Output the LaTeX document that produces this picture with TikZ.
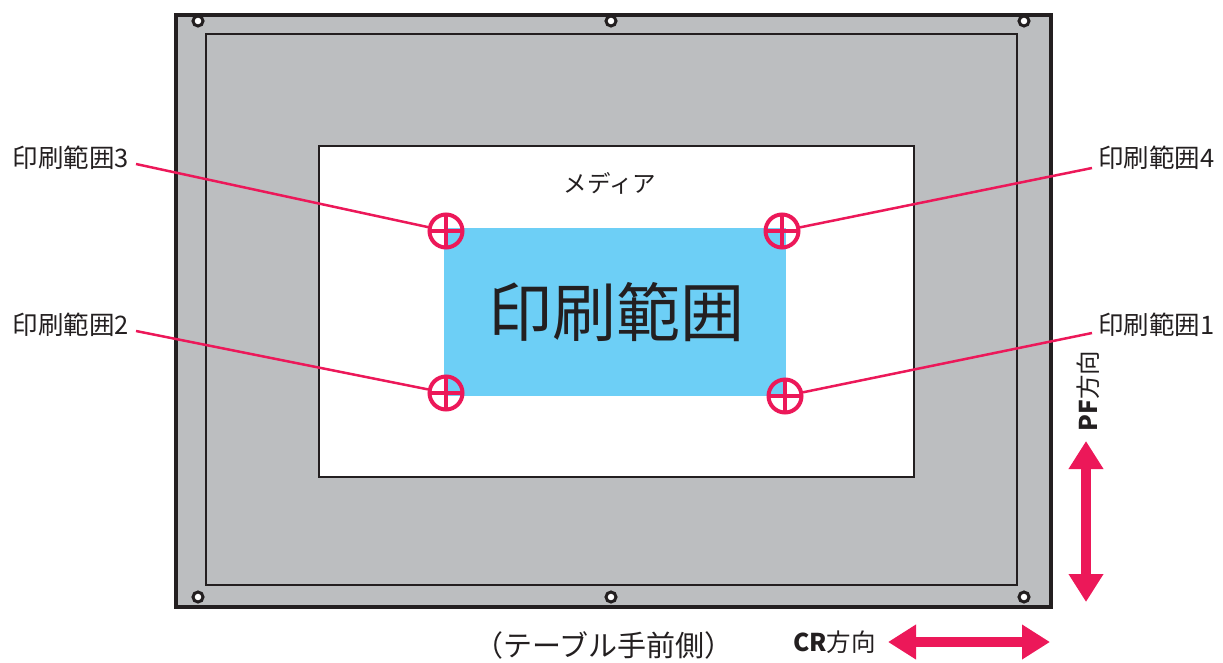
\documentclass[tikz,border=0pt]{standalone}
\usepackage{fontspec}
\setmainfont{Noto Sans CJK JP}
\usetikzlibrary{arrows.meta}
\definecolor{pinkc}{HTML}{EC1859}
\definecolor{grayc}{HTML}{BCBEC0}
\definecolor{bluec}{HTML}{6DCFF6}
\definecolor{inkc}{HTML}{231F20}
\tikzset{
  lbl/.style={font=\fontsize{25.5}{25.5}\selectfont, text=inkc, inner sep=0pt},
  leader/.style={draw=pinkc, line width=2.5pt},
  cross/.style={circle, draw=pinkc, line width=4pt, minimum size=33pt, inner sep=0pt,
    path picture={\draw[pinkc, line width=4pt] (path picture bounding box.north) -- (path picture bounding box.south)
      (path picture bounding box.west) -- (path picture bounding box.east);}},
  screw/.style={circle, draw=inkc, fill=white, line width=3pt, minimum size=10pt, inner sep=0pt},
  bigarrow/.style={draw=pinkc, line width=10pt, {Triangle[width=33pt,length=28pt]}-{Triangle[width=33pt,length=28pt]}, shorten <=0pt, shorten >=0pt}
}
\begin{document}
\begin{tikzpicture}[x=1pt,y=-1pt]
\useasboundingbox (0,0) rectangle (1223,662);
% frames
\node[draw=inkc, fill=grayc, line width=4pt, minimum width=875pt, minimum height=592pt, inner sep=0pt, anchor=north west] (outer) at (174,13) {};
\node[draw=inkc, line width=2pt, minimum width=811pt, minimum height=551pt, inner sep=0pt, anchor=north west] (inner) at (205,33) {};
\node[draw=inkc, fill=white, line width=1.5pt, minimum width=595pt, minimum height=331pt, inner sep=0pt, anchor=north west] (media) at (318,145) {};
\node[fill=bluec, minimum width=342pt, minimum height=168pt, inner sep=0pt, anchor=north west] (area) at (444,228) {};
\node[font=\fontsize{64}{64}\selectfont, text=inkc, inner sep=0pt] (areatxt) at (616,312) {印刷範囲};
\node[font=\fontsize{23.5}{23.5}\selectfont, text=inkc, inner sep=0pt] (mediatxt) at (610,183) {メディア};
% screws
\node[screw] (s1) at (198,21) {};
\node[screw] (s2) at (611,21) {};
\node[screw] (s3) at (1024,21) {};
\node[screw] (s4) at (198,597) {};
\node[screw] (s5) at (611,597) {};
\node[screw] (s6) at (1024,597) {};
% crosshairs
\node[cross] (c3) at (446,231) {};
\node[cross] (c2) at (446,393) {};
\node[cross] (c4) at (782,231) {};
\node[cross] (c1) at (785,396) {};
% labels
\node[lbl, anchor=east] (l3) at (129,158) {印刷範囲3};
\node[lbl, anchor=east] (l2) at (129,325) {印刷範囲2};
\node[lbl, anchor=west] (l4) at (1098,158) {印刷範囲4};
\node[lbl, anchor=west] (l1) at (1098,325) {印刷範囲1};
\coordinate (e3) at (136,164);
\coordinate (e2) at (136,331);
\coordinate (e4) at (1092,168);
\coordinate (e1) at (1092,333);
\draw[leader] (e3) -- (c3);
\draw[leader] (e2) -- (c2);
\draw[leader] (e4) -- (c4);
\draw[leader] (e1) -- (c1);
% direction arrows
\coordinate (pfT) at (1086,441);
\coordinate (pfB) at (1086,602);
\draw[bigarrow] (pfT) -- (pfB);
\node[font=\fontsize{24.5}{24.5}\selectfont, text=inkc, inner sep=0pt, rotate=90] (pftxt) at (1088,391) {\textbf{PF}方向};
\coordinate (crL) at (888,642);
\coordinate (crR) at (1050,642);
\draw[bigarrow] (crL) -- (crR);
\node[font=\fontsize{24.5}{24.5}\selectfont, text=inkc, inner sep=0pt, anchor=east] (crtxt) at (876,642) {\textbf{CR}方向};
\node[font=\fontsize{29}{29}\selectfont, text=inkc, inner sep=0pt] (table) at (604,645) {（テーブル手前側）};
\end{tikzpicture}
\end{document}
